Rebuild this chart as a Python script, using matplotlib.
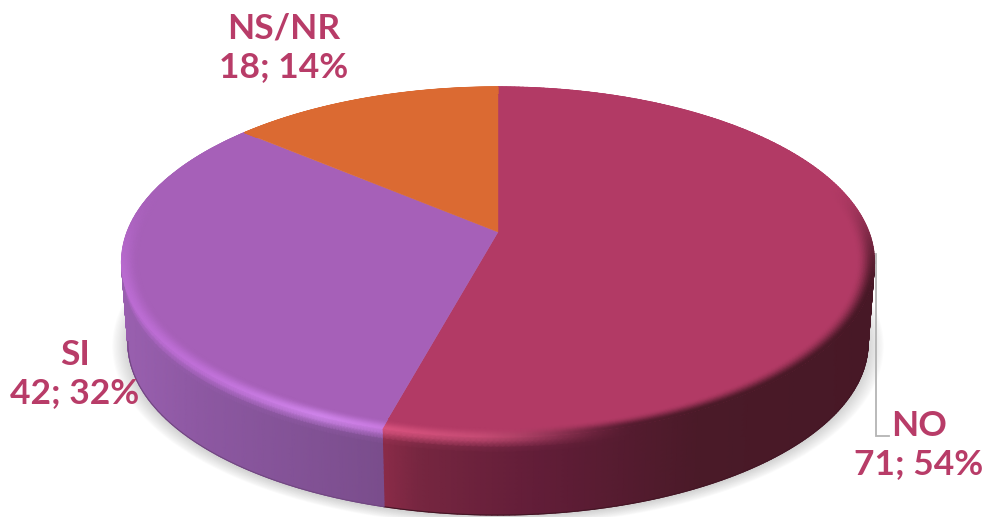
import numpy as np
import matplotlib
matplotlib.use("Agg")
import matplotlib.pyplot as plt
from matplotlib.colors import to_rgb

categories = ["NO", "SI", "NS/NR"]
values = [71, 42, 18]
percents = [54, 32, 14]
top_colors = ["#b23a65", "#a660b8", "#db6a32"]
text_color = "#b83c68"

# pie geometry in pixels (perspective ellipse, centre is not the ellipse middle)
cx, cy = 498, 232
rad_x, rad_y = 371, 170
persp = 0.171
depth_y = 81.5
depth_scale = 0.983


def project(t, f=1.0, bottom=False):
    s = np.sin(t)
    w = 1 + persp * s
    x = f * rad_x * np.cos(t) / w
    y = -f * rad_y * s / w
    if bottom:
        return cx + depth_scale * x, cy + depth_y + depth_scale * y
    return cx + x, cy + y


def smooth(a, b, x):
    v = np.clip((x - a) / (b - a), 0, 1)
    return v * v * (3 - 2 * v)


def ramp(x, xs, cols):
    cols = np.array([to_rgb(c) for c in cols])
    return np.stack([np.interp(x, xs, cols[:, i]) for i in range(3)], axis=-1)


def side_color(i, x):
    if i == 0:
        return ramp(x, [385, 420, 540, 700, 880], ["#8a2b48", "#762640", "#621d38", "#4a1a28", "#471826"])
    if i == 1:
        return ramp(x, [120, 200, 383], ["#9a60b0", "#8d58a2", "#7a4d8c"])
    return ramp(x, [250, 498], ["#b0562a", "#b0562a"])


def edge_color(i, x):
    if i == 0:
        hi = ramp(x, [383, 500], ["#d8527e", "#c24a72"])
        return hi + (side_color(i, x) - hi) * smooth(470, 640, x)[..., None]
    if i == 1:
        return ramp(x, [120, 200, 320, 383], ["#bb6cd2", "#c070d8", "#cf84ea", "#c97ae0"])
    return np.array(to_rgb(top_colors[2])) * np.ones(x.shape + (3,))


fig = plt.figure(figsize=(9.9, 5.17), dpi=100)
ax = fig.add_axes([0, 0, 1, 1])
ax.set_xlim(0, 990)
ax.set_ylim(517, 0)
ax.axis("off")

# slice limits, clockwise from 12 o'clock
shares = np.array(values) / np.sum(values)
edges = np.pi / 2 - 2 * np.pi * np.concatenate([[0], np.cumsum(shares)])

# soft shadow under the disc
full = np.linspace(0, 2 * np.pi, 400)
for grow in np.linspace(1.042, 1.0, 14):
    sx, sy = project(full, grow, bottom=True)
    ax.fill(sx, sy + 2, color="#8c8c8c", alpha=0.028, lw=0, zorder=1)

# leader line for the NO label
ax.plot([876, 876, 889], [254, 436, 436], color="#b4b4b4", lw=1.3, zorder=1.5,
        solid_joinstyle="miter")

for i in range(len(values)):
    t = np.linspace(edges[i], edges[i + 1], 260)

    # side wall, only where the slice faces the viewer
    front = t[np.sin(t) < -0.16]
    if front.size > 1:
        u = np.linspace(0, 1, 16)
        xt, yt = project(front)
        xb, yb = project(front, bottom=True)
        X = xt[None, :] + (xb - xt)[None, :] * u[:, None]
        Y = yt[None, :] + (yb - yt)[None, :] * u[:, None]
        side = side_color(i, X)
        rim = edge_color(i, X)
        mix = smooth(0, 0.17, u)[:, None, None]
        ax.pcolormesh(X, Y, rim + (side - rim) * mix, shading="gouraud", zorder=2)
        # crisp lower edge
        ax.plot(xb, yb, color=side_color(i, xb).mean(axis=0) * 0.8, lw=0.8, zorder=2.1)

    # top face
    xs, ys = project(t)
    ax.fill(np.r_[cx, xs], np.r_[cy, ys], color=top_colors[i], lw=0.3, zorder=3)

    # bevel band on the top face
    f = np.linspace(0.95, 1.0, 12)
    X = np.empty((f.size, t.size))
    Y = np.empty((f.size, t.size))
    for k, fk in enumerate(f):
        X[k], Y[k] = project(t, fk)
    base = np.array(to_rgb(top_colors[i]))
    weight = smooth(0, 1, (f - 0.95) / 0.05)[:, None] ** 1.3 * smooth(-0.3, 0.35, -np.sin(t))[None, :]
    face = base + (edge_color(i, X) - base) * weight[..., None]
    ax.pcolormesh(X, Y, face, shading="gouraud", zorder=4)

# labels
label_pos = [(919, 445), (75, 374), (284, 48)]
for name, val, pct, (lx, ly) in zip(categories, values, percents, label_pos):
    ax.text(lx, ly, f"{name}\n{val}; {pct}%", color=text_color, ha="center", va="center",
            family="Lato", weight="bold", fontsize=25.5, linespacing=1.24, zorder=6)

fig.savefig("out.png", dpi=100)
